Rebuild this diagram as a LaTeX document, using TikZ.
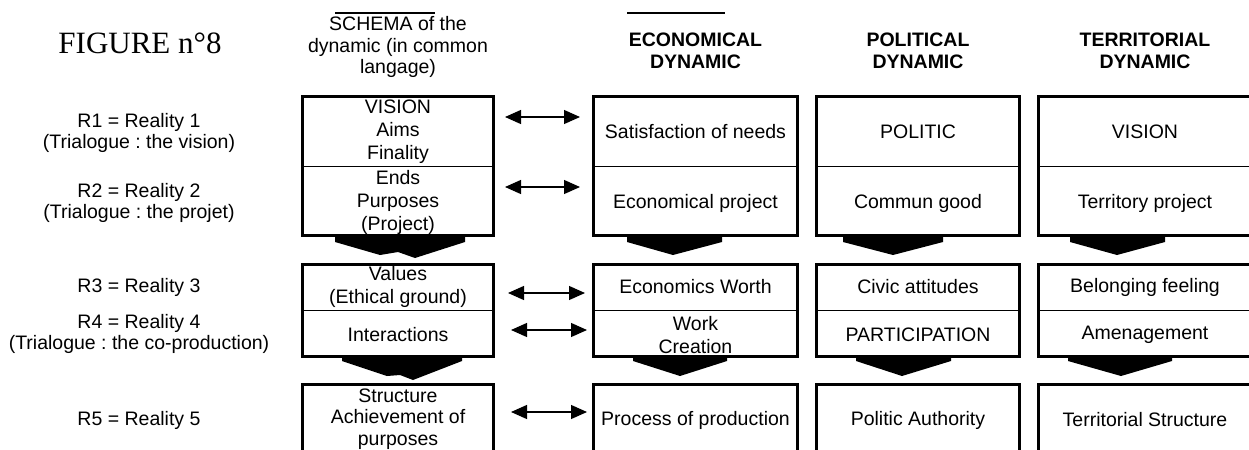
\documentclass[tikz,border=0pt]{standalone}
\usepackage{fontspec}
\setmainfont{Liberation Sans}
\newfontfamily\timesf{Liberation Serif}
\usetikzlibrary{arrows.meta}
\frenchspacing
\begin{document}
\begin{tikzpicture}[x=0.5pt,y=-0.5pt,
 txt/.style={align=center,inner sep=0pt,font=\fontsize{9.75}{11.5}\selectfont},
 hdr/.style={align=center,inner sep=0pt,font=\fontsize{9.75}{11}\selectfont\bfseries},
 lbl/.style={align=center,inner sep=0pt,font=\fontsize{9.75}{10.5}\selectfont},
 boxline/.style={line width=1.5pt},
 divline/.style={line width=0.5pt},
 dbl/.style={line width=0.6pt,{Triangle[length=8pt,width=7pt]}-{Triangle[length=8pt,width=7pt]}},
 chev/.style={fill=black},
 ovl/.style={line width=1pt}]
\useasboundingbox (0,0) rectangle (1249,450);
\clip (0,0) rectangle (1249,450);

% title and headers
\node[inner sep=0pt,font=\timesf\fontsize{15.5}{18}\selectfont] (title) at (140,43) {FIGURE n°8};
\node[txt,font=\fontsize{9.75}{10.75}\selectfont] (h1) at (398,47) {SCHEMA of the\\dynamic (in common\\langage)};
\node[hdr] (h2) at (695.5,51) {ECONOMICAL\\DYNAMIC};
\node[hdr] (h3) at (918,51) {POLITICAL\\DYNAMIC};
\node[hdr] (h4) at (1145,51) {TERRITORIAL\\DYNAMIC};
\draw[ovl] (335,13) -- (435,13);
\draw[ovl] (627,13) -- (725,13);

% left labels
\node[lbl] (r1) at (139,132.5) {R1 = Reality 1\\(Trialogue : the vision)};
\node[lbl] (r2) at (139,202.5) {R2 = Reality 2\\(Trialogue : the projet)};
\node[lbl] (r3) at (139,287) {R3 = Reality 3};
\node[lbl] (r4) at (139,334) {R4 = Reality 4\\(Trialogue : the co-production)};
\node[lbl] (r5) at (139,420) {R5 = Reality 5};

% boxes
\foreach \xa/\xb in {302.5/493.5,593.5/797.5,816.5/1019.5,1038.5/1265}{
  \draw[boxline] (\xa,96.5) rectangle (\xb,235.5);
  \draw[divline] (\xa,166) -- (\xb,166);
  \draw[boxline] (\xa,264.5) rectangle (\xb,356.5);
  \draw[divline] (\xa,310) -- (\xb,310);
  \draw[boxline] (\xa,384.5) rectangle (\xb,480);
}

% chevrons row 1
\fill[chev] (335,236) -- (465,236) -- (465,242) -- (415,258) -- (398,252) -- (380,255) -- (335,242) -- cycle;
\fill[chev] (627,236) -- (722,236) -- (722,242) -- (673,255) -- (627,242) -- cycle;
\fill[chev] (843,236) -- (943,236) -- (943,242) -- (893,255) -- (843,242) -- cycle;
\fill[chev] (1070,236) -- (1165,236) -- (1165,242) -- (1117,255) -- (1070,242) -- cycle;
% chevrons row 2
\fill[chev] (342,357) -- (462,357) -- (462,361) -- (413,380) -- (400,375) -- (387,376) -- (342,361) -- cycle;
\fill[chev] (633,357) -- (727,357) -- (727,361) -- (680,376) -- (633,361) -- cycle;
\fill[chev] (856,357) -- (951,357) -- (951,361) -- (902,376) -- (856,361) -- cycle;
\fill[chev] (1068,357) -- (1172,357) -- (1172,361) -- (1121,376) -- (1068,361) -- cycle;

% texts row 1
\node[txt] (a11) at (398,132) {VISION\\Aims\\Finality};
\node[txt] (a12) at (695.5,132) {Satisfaction of needs};
\node[txt] (a13) at (918,132) {POLITIC};
\node[txt] (a14) at (1145,132) {VISION};
\node[txt] (b11) at (398,202) {Ends\\Purposes\\(Project)};
\node[txt] (b12) at (695.5,203) {Economical project};
\node[txt] (b13) at (918,203) {Commun good};
\node[txt] (b14) at (1145,203) {Territory project};
% texts row 2
\node[txt] (a21) at (398,287) {Values\\(Ethical ground)};
\node[txt] (a22) at (695.5,287) {Economics Worth};
\node[txt] (a23) at (918,287) {Civic attitudes};
\node[txt] (a24) at (1145,287) {Belonging feeling};
\node[txt] (b21) at (398,335) {Interactions};
\node[txt] (b22) at (695.5,335) {Work\\Creation};
\node[txt] (b23) at (918,335) {PARTICIPATION};
\node[txt] (b24) at (1145,335) {Amenagement};
% texts row 3
\node[txt,font=\fontsize{9.75}{10.75}\selectfont] (c31) at (398,419) {Structure\\Achievement of\\purposes};
\node[txt] (c32) at (695.5,420) {Process of production};
\node[txt] (c33) at (918,420) {Politic Authority};
\node[txt] (c34) at (1145,420) {Territorial Structure};

% double arrows
\coordinate (p1l) at (505,117); \coordinate (p1r) at (580,117);
\coordinate (p2l) at (505,187); \coordinate (p2r) at (580,187);
\coordinate (p3l) at (508,293); \coordinate (p3r) at (585,293);
\coordinate (p4l) at (511,330); \coordinate (p4r) at (587,330);
\coordinate (p5l) at (511,412); \coordinate (p5r) at (587,412);
\draw[dbl] (p1l) -- (p1r);
\draw[dbl] (p2l) -- (p2r);
\draw[dbl] (p3l) -- (p3r);
\draw[dbl] (p4l) -- (p4r);
\draw[dbl] (p5l) -- (p5r);
\end{tikzpicture}
\end{document}
